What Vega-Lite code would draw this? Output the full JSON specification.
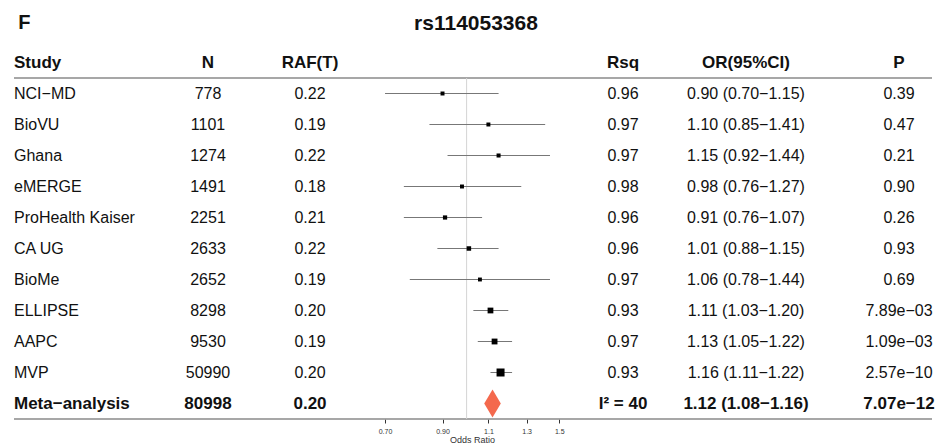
{
  "$schema": "https://vega.github.io/schema/vega-lite/v6.json",
  "padding": {"left": 13, "top": 13, "right": 0, "bottom": 0},
  "bounds": "flush",
  "spacing": 0,
  "config": {
    "font": "Liberation Sans",
    "view": {"stroke": null},
    "text": {"fontSize": 16, "color": "#111"}
  },
  "datasets": {
    "rows": [
      {"study": "NCI−MD", "n": 778, "raf": 0.22, "rsq": "0.96", "or": 0.90, "lo": 0.70, "hi": 1.15, "ci": "0.90 (0.70−1.15)", "p": "0.39", "w": 1.7, "meta": false},
      {"study": "BioVU", "n": 1101, "raf": 0.19, "rsq": "0.97", "or": 1.10, "lo": 0.85, "hi": 1.41, "ci": "1.10 (0.85−1.41)", "p": "0.47", "w": 1.6, "meta": false},
      {"study": "Ghana", "n": 1274, "raf": 0.22, "rsq": "0.97", "or": 1.15, "lo": 0.92, "hi": 1.44, "ci": "1.15 (0.92−1.44)", "p": "0.21", "w": 2.1, "meta": false},
      {"study": "eMERGE", "n": 1491, "raf": 0.18, "rsq": "0.98", "or": 0.98, "lo": 0.76, "hi": 1.27, "ci": "0.98 (0.76−1.27)", "p": "0.90", "w": 1.6, "meta": false},
      {"study": "ProHealth Kaiser", "n": 2251, "raf": 0.21, "rsq": "0.96", "or": 0.91, "lo": 0.76, "hi": 1.07, "ci": "0.91 (0.76−1.07)", "p": "0.26", "w": 3.5, "meta": false},
      {"study": "CA UG", "n": 2633, "raf": 0.22, "rsq": "0.96", "or": 1.01, "lo": 0.88, "hi": 1.15, "ci": "1.01 (0.88−1.15)", "p": "0.93", "w": 5.8, "meta": false},
      {"study": "BioMe", "n": 2652, "raf": 0.19, "rsq": "0.97", "or": 1.06, "lo": 0.78, "hi": 1.44, "ci": "1.06 (0.78−1.44)", "p": "0.69", "w": 1.1, "meta": false},
      {"study": "ELLIPSE", "n": 8298, "raf": 0.20, "rsq": "0.93", "or": 1.11, "lo": 1.03, "hi": 1.20, "ci": "1.11 (1.03−1.20)", "p": "7.89e−03", "w": 17.8, "meta": false},
      {"study": "AAPC", "n": 9530, "raf": 0.19, "rsq": "0.97", "or": 1.13, "lo": 1.05, "hi": 1.22, "ci": "1.13 (1.05−1.22)", "p": "1.09e−03", "w": 18.4, "meta": false},
      {"study": "MVP", "n": 50990, "raf": 0.20, "rsq": "0.93", "or": 1.16, "lo": 1.11, "hi": 1.22, "ci": "1.16 (1.11−1.22)", "p": "2.57e−10", "w": 46.4, "meta": false},
      {"study": "Meta−analysis", "n": 80998, "raf": 0.20, "rsq": "I² = 40", "or": 1.12, "lo": 1.08, "hi": 1.16, "ci": "1.12 (1.08−1.16)", "p": "7.07e−12", "w": null, "meta": true}
    ],
    "hlines": [{"row": "Study"}, {"row": "Meta−analysis"}]
  },
  "data": {"name": "rows"},
  "hconcat": [
    {
      "width": 144, "height": 372,
      "title": {"text": "F", "anchor": "start", "fontSize": 20, "fontWeight": "bold", "offset": 14, "dx": 5, "color": "#111"},
      "layer": [
        {"data": {"name": "hlines"}, "mark": {"type": "rule", "color": "#8a8a8a", "strokeWidth": 1.5},
         "encoding": {"y": {"field": "row", "type": "nominal", "bandPosition": 1, "axis": null, "scale": {"type": "band", "paddingInner": 0, "paddingOuter": 0, "domain": ["Study", "NCI−MD", "BioVU", "Ghana", "eMERGE", "ProHealth Kaiser", "CA UG", "BioMe", "ELLIPSE", "AAPC", "MVP", "Meta−analysis"]}}}},
        {"data": {"values": [{"label": "Study"}]}, "mark": {"type": "text", "align": "left", "fontWeight": "bold", "fontSize": 17},
         "encoding": {"x": {"value": 0}, "y": {"datum": "Study", "type": "nominal", "bandPosition": 0.5}, "text": {"field": "label"}}},
        {"transform": [{"filter": "!datum.meta"}], "mark": {"type": "text", "align": "left"},
         "encoding": {"x": {"value": 0}, "y": {"field": "study", "type": "nominal", "bandPosition": 0.5}, "text": {"field": "study"}}},
        {"transform": [{"filter": "datum.meta"}], "mark": {"type": "text", "align": "left", "fontWeight": "bold", "fontSize": 17},
         "encoding": {"x": {"value": 0}, "y": {"field": "study", "type": "nominal", "bandPosition": 0.5}, "text": {"field": "study"}}}
      ]
    },
    {
      "width": 100, "height": 372,
      "layer": [
        {"data": {"name": "hlines"}, "mark": {"type": "rule", "color": "#8a8a8a", "strokeWidth": 1.5},
         "encoding": {"y": {"field": "row", "type": "nominal", "bandPosition": 1, "axis": null, "scale": {"type": "band", "paddingInner": 0, "paddingOuter": 0, "domain": ["Study", "NCI−MD", "BioVU", "Ghana", "eMERGE", "ProHealth Kaiser", "CA UG", "BioMe", "ELLIPSE", "AAPC", "MVP", "Meta−analysis"]}}}},
        {"data": {"values": [{"label": "N"}]}, "mark": {"type": "text", "fontWeight": "bold", "fontSize": 17},
         "encoding": {"y": {"datum": "Study", "type": "nominal", "bandPosition": 0.5}, "text": {"field": "label"}}},
        {"transform": [{"filter": "!datum.meta"}], "mark": {"type": "text"},
         "encoding": {"y": {"field": "study", "type": "nominal", "bandPosition": 0.5}, "text": {"field": "n", "type": "quantitative", "format": "d"}}},
        {"transform": [{"filter": "datum.meta"}], "mark": {"type": "text", "fontWeight": "bold", "fontSize": 17},
         "encoding": {"y": {"field": "study", "type": "nominal", "bandPosition": 0.5}, "text": {"field": "n", "type": "quantitative", "format": "d"}}}
      ]
    },
    {
      "width": 104, "height": 372,
      "layer": [
        {"data": {"name": "hlines"}, "mark": {"type": "rule", "color": "#8a8a8a", "strokeWidth": 1.5},
         "encoding": {"y": {"field": "row", "type": "nominal", "bandPosition": 1, "axis": null, "scale": {"type": "band", "paddingInner": 0, "paddingOuter": 0, "domain": ["Study", "NCI−MD", "BioVU", "Ghana", "eMERGE", "ProHealth Kaiser", "CA UG", "BioMe", "ELLIPSE", "AAPC", "MVP", "Meta−analysis"]}}}},
        {"data": {"values": [{"label": "RAF(T)"}]}, "mark": {"type": "text", "fontWeight": "bold", "fontSize": 17},
         "encoding": {"y": {"datum": "Study", "type": "nominal", "bandPosition": 0.5}, "text": {"field": "label"}}},
        {"transform": [{"filter": "!datum.meta"}], "mark": {"type": "text"},
         "encoding": {"y": {"field": "study", "type": "nominal", "bandPosition": 0.5}, "text": {"field": "raf", "type": "quantitative", "format": ".2f"}}},
        {"transform": [{"filter": "datum.meta"}], "mark": {"type": "text", "fontWeight": "bold", "fontSize": 17},
         "encoding": {"y": {"field": "study", "type": "nominal", "bandPosition": 0.5}, "text": {"field": "raf", "type": "quantitative", "format": ".2f"}}}
      ]
    },
    {
      "width": 220, "height": 372,
      "title": {"text": "rs114053368", "anchor": "middle", "fontSize": 21, "fontWeight": "bold", "offset": 13, "dx": 4, "color": "#111"},
      "layer": [
        {"data": {"name": "hlines"}, "mark": {"type": "rule", "color": "#8a8a8a", "strokeWidth": 1.5},
         "encoding": {"y": {"field": "row", "type": "nominal", "bandPosition": 1, "axis": null, "scale": {"type": "band", "paddingInner": 0, "paddingOuter": 0, "domain": ["Study", "NCI−MD", "BioVU", "Ghana", "eMERGE", "ProHealth Kaiser", "CA UG", "BioMe", "ELLIPSE", "AAPC", "MVP", "Meta−analysis"]}}}},
        {"data": {"values": [{"ref": 1}]}, "mark": {"type": "rule", "color": "#d4d4d4", "strokeWidth": 1},
         "encoding": {
           "x": {"field": "ref", "type": "quantitative",
                 "scale": {"type": "log", "domain": [0.6329, 1.6563], "nice": false},
                 "axis": {"values": [0.7, 0.9, 1.1, 1.3, 1.5], "labelExpr": "datum.value < 1 ? format(datum.value, '.2f') : format(datum.value, '.1f')", "title": "Odds Ratio", "domain": false, "grid": false, "tickSize": 4, "tickColor": "#333", "tickWidth": 1, "labelFontSize": 7, "labelColor": "#333", "labelPadding": 4, "titleFontSize": 9, "titleFontWeight": "normal", "titleColor": "#333", "titlePadding": 1}},
           "y": {"datum": "Study", "type": "nominal", "bandPosition": 1},
           "y2": {"value": "height"}}},
        {"transform": [{"filter": "!datum.meta"}], "mark": {"type": "rule", "color": "#777", "strokeWidth": 1},
         "encoding": {"x": {"field": "lo", "type": "quantitative"}, "x2": {"field": "hi"}, "y": {"field": "study", "type": "nominal", "bandPosition": 0.5}}},
        {"transform": [{"filter": "!datum.meta"}], "mark": {"type": "square", "filled": true, "color": "#000", "opacity": 1},
         "encoding": {"x": {"field": "or", "type": "quantitative"}, "y": {"field": "study", "type": "nominal", "bandPosition": 0.5},
                      "size": {"field": "w", "type": "quantitative", "scale": {"range": [14, 64]}, "legend": null}}},
        {"transform": [{"filter": "datum.meta"}], "mark": {"type": "point", "shape": "M-0.593,0L0,-1L0.593,0L0,1Z", "filled": true, "color": "#F4694D", "opacity": 1, "size": 784},
         "encoding": {"x": {"field": "or", "type": "quantitative"}, "y": {"field": "study", "type": "nominal", "bandPosition": 0.5}}}
      ]
    },
    {
      "width": 82, "height": 372,
      "layer": [
        {"data": {"name": "hlines"}, "mark": {"type": "rule", "color": "#8a8a8a", "strokeWidth": 1.5},
         "encoding": {"y": {"field": "row", "type": "nominal", "bandPosition": 1, "axis": null, "scale": {"type": "band", "paddingInner": 0, "paddingOuter": 0, "domain": ["Study", "NCI−MD", "BioVU", "Ghana", "eMERGE", "ProHealth Kaiser", "CA UG", "BioMe", "ELLIPSE", "AAPC", "MVP", "Meta−analysis"]}}}},
        {"data": {"values": [{"label": "Rsq"}]}, "mark": {"type": "text", "fontWeight": "bold", "fontSize": 17},
         "encoding": {"y": {"datum": "Study", "type": "nominal", "bandPosition": 0.5}, "text": {"field": "label"}}},
        {"transform": [{"filter": "!datum.meta"}], "mark": {"type": "text"},
         "encoding": {"y": {"field": "study", "type": "nominal", "bandPosition": 0.5}, "text": {"field": "rsq"}}},
        {"transform": [{"filter": "datum.meta"}], "mark": {"type": "text", "fontWeight": "bold", "fontSize": 17},
         "encoding": {"y": {"field": "study", "type": "nominal", "bandPosition": 0.5}, "text": {"field": "rsq"}}}
      ]
    },
    {
      "width": 164, "height": 372,
      "layer": [
        {"data": {"name": "hlines"}, "mark": {"type": "rule", "color": "#8a8a8a", "strokeWidth": 1.5},
         "encoding": {"y": {"field": "row", "type": "nominal", "bandPosition": 1, "axis": null, "scale": {"type": "band", "paddingInner": 0, "paddingOuter": 0, "domain": ["Study", "NCI−MD", "BioVU", "Ghana", "eMERGE", "ProHealth Kaiser", "CA UG", "BioMe", "ELLIPSE", "AAPC", "MVP", "Meta−analysis"]}}}},
        {"data": {"values": [{"label": "OR(95%CI)"}]}, "mark": {"type": "text", "fontWeight": "bold", "fontSize": 17},
         "encoding": {"y": {"datum": "Study", "type": "nominal", "bandPosition": 0.5}, "text": {"field": "label"}}},
        {"transform": [{"filter": "!datum.meta"}], "mark": {"type": "text"},
         "encoding": {"y": {"field": "study", "type": "nominal", "bandPosition": 0.5}, "text": {"field": "ci"}}},
        {"transform": [{"filter": "datum.meta"}], "mark": {"type": "text", "fontWeight": "bold", "fontSize": 17},
         "encoding": {"y": {"field": "study", "type": "nominal", "bandPosition": 0.5}, "text": {"field": "ci"}}}
      ]
    },
    {
      "width": 38, "height": 372,
      "layer": [
        {"data": {"name": "hlines"}, "mark": {"type": "rule", "color": "#8a8a8a", "strokeWidth": 1.5},
         "encoding": {"y": {"field": "row", "type": "nominal", "bandPosition": 1, "axis": null, "scale": {"type": "band", "paddingInner": 0, "paddingOuter": 0, "domain": ["Study", "NCI−MD", "BioVU", "Ghana", "eMERGE", "ProHealth Kaiser", "CA UG", "BioMe", "ELLIPSE", "AAPC", "MVP", "Meta−analysis"]}}}}
      ]
    },
    {
      "width": 66, "height": 372,
      "layer": [
        {"data": {"name": "hlines"}, "mark": {"type": "rule", "color": "#8a8a8a", "strokeWidth": 1.5},
         "encoding": {"y": {"field": "row", "type": "nominal", "bandPosition": 1, "axis": null, "scale": {"type": "band", "paddingInner": 0, "paddingOuter": 0, "domain": ["Study", "NCI−MD", "BioVU", "Ghana", "eMERGE", "ProHealth Kaiser", "CA UG", "BioMe", "ELLIPSE", "AAPC", "MVP", "Meta−analysis"]}}}},
        {"data": {"values": [{"label": "P"}]}, "mark": {"type": "text", "fontWeight": "bold", "fontSize": 17},
         "encoding": {"y": {"datum": "Study", "type": "nominal", "bandPosition": 0.5}, "text": {"field": "label"}}},
        {"transform": [{"filter": "!datum.meta"}], "mark": {"type": "text"},
         "encoding": {"y": {"field": "study", "type": "nominal", "bandPosition": 0.5}, "text": {"field": "p"}}},
        {"transform": [{"filter": "datum.meta"}], "mark": {"type": "text", "fontWeight": "bold", "fontSize": 17},
         "encoding": {"y": {"field": "study", "type": "nominal", "bandPosition": 0.5}, "text": {"field": "p"}}}
      ]
    }
  ]
}
